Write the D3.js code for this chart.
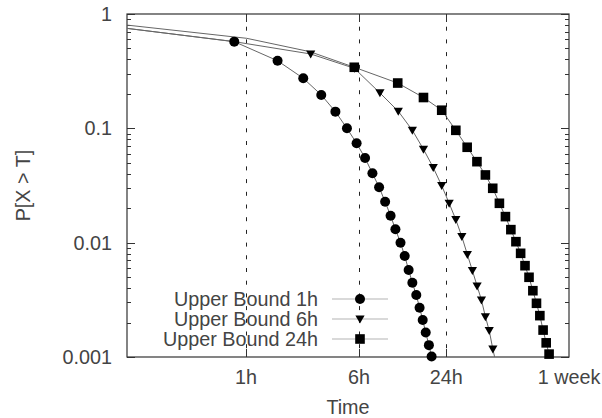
<!DOCTYPE html>
<html>
<head>
  <meta charset="utf-8">
  <title>Upper bound P[X > T]</title>
  <script src="https://cdnjs.cloudflare.com/ajax/libs/d3/7.8.5/d3.min.js"></script>
  <style>
    body { margin: 0; background: #fff; }
    text { font-family: "Liberation Sans", Arial, Helvetica, sans-serif; font-size: 19.8px; fill: #444; }
    .grid { stroke: #222; stroke-width: 1; stroke-dasharray: 4, 8.7; }
    .tick { stroke: #333; stroke-width: 1; }
    .frame { fill: none; stroke: #333; stroke-width: 1.2; }
    .curve { fill: none; stroke: #666; stroke-width: 1; }
    .legline { stroke: #ccc; stroke-width: 1.5; }
  </style>
</head>
<body>
  <svg id="chart"></svg>

  <script>
    // marker points, time in hours
    var hours1 = [0.83, 1.65, 2.48, 3.30, 4.13, 4.96, 5.78, 6.61, 7.43, 8.26, 9.09, 9.91, 10.7, 11.6, 12.4, 13.2, 14.0, 14.9, 15.7, 16.5, 17.3, 18.2, 19.0];
    var prob1 = [0.573, 0.390, 0.274, 0.196, 0.140, 0.100, 0.074, 0.055, 0.0404, 0.0305, 0.0228, 0.0172, 0.0131, 0.0100, 0.00764, 0.00577, 0.00446, 0.00348, 0.00270, 0.00211, 0.00164, 0.00127, 0.00101];

    var hours6 = [2.79, 5.58, 8.37, 11.2, 14.0, 16.7, 19.5, 22.3, 25.1, 27.9, 30.7, 33.5, 36.3, 39.1, 41.9, 44.6, 47.4, 50.2];
    var prob6 = [0.447, 0.335, 0.204, 0.141, 0.0961, 0.0656, 0.0454, 0.0315, 0.0221, 0.0159, 0.0113, 0.00788, 0.00569, 0.00418, 0.00315, 0.00225, 0.00170, 0.00117];

    var hours24 = [5.57, 11.1, 16.7, 22.3, 27.9, 33.4, 39.0, 44.6, 50.1, 55.7, 61.3, 66.8, 72.4, 78.0, 83.6, 89.1, 94.7, 100.3, 105.8, 111.4, 117.0, 122.5];
    var prob24 = [0.342, 0.249, 0.186, 0.144, 0.0961, 0.0683, 0.0511, 0.0391, 0.0299, 0.0221, 0.0169, 0.0130, 0.0102, 0.00807, 0.00629, 0.00498, 0.00380, 0.00295, 0.00230, 0.00172, 0.00133, 0.00106];

    // unmarked line points before the first / after the last marker
    var leadHours1 = [0.15], leadProb1 = [0.750];
    var leadHours6 = [0.15, 0.83], leadProb6 = [0.750, 0.573];
    var leadHours24 = [0.15, 1.01, 2.76], leadProb24 = [0.801, 0.613, 0.468];
    var tailHours6 = [52.2], tailProb6 = [0.00094];
    var tailHours24 = [126.6], tailProb24 = [0.00094];

    var seriesNames = ['Upper Bound 1h', 'Upper Bound 6h', 'Upper Bound 24h'];
    var seriesShapes = ['circle', 'triangle', 'square'];

    var xTickHours = [1, 6, 24, 168];
    var xTickLabels = ['1h', '6h', '24h', '1 week'];
    var yTickValues = [1, 0.1, 0.01, 0.001];
    var yTickLabels = ['1', '0.1', '0.01', '0.001'];

    var W = 602, H = 418;
    var pl = 127, pr = 569, pt = 14, pb = 357;

    var svg = d3.select('#chart')
      .attr('width', W)
      .attr('height', H);

    var x = d3.scaleLog().domain([0.1514, 168]).range([pl, pr]);
    var y = d3.scaleLog().domain([0.001, 1]).range([pb, pt]);

    function pairs(hs, ps) { return hs.map(function (h, i) { return [h, ps[i]]; }); }

    var series = [
      { pts: pairs(hours1, prob1), line: pairs(leadHours1, leadProb1).concat(pairs(hours1, prob1)) },
      { pts: pairs(hours6, prob6), line: pairs(leadHours6, leadProb6).concat(pairs(hours6, prob6), pairs(tailHours6, tailProb6)) },
      { pts: pairs(hours24, prob24), line: pairs(leadHours24, leadProb24).concat(pairs(hours24, prob24), pairs(tailHours24, tailProb24)) }
    ];

    svg.append('clipPath').attr('id', 'clip')
      .append('rect')
      .attr('x', pl).attr('y', pt)
      .attr('width', pr - pl).attr('height', pb - pt);

    // dashed verticals at 1h, 6h, 24h
    svg.selectAll('.grid')
      .data(xTickHours.slice(0, 3))
      .enter().append('line')
      .attr('class', 'grid')
      .attr('x1', d => Math.round(x(d)) + 0.5).attr('x2', d => Math.round(x(d)) + 0.5)
      .attr('y1', pt).attr('y2', pb);

    // y ticks, inward on both sides
    var yAll = y.ticks();
    var ticks = svg.append('g');
    yAll.forEach(function (v) {
      var major = yTickValues.indexOf(v) >= 0;
      var len = major ? 8 : 4;
      var yy = Math.round(y(v)) + 0.5;
      ticks.append('line').attr('class', 'tick')
        .attr('x1', pl).attr('x2', pl + len).attr('y1', yy).attr('y2', yy);
      ticks.append('line').attr('class', 'tick')
        .attr('x1', pr).attr('x2', pr - len).attr('y1', yy).attr('y2', yy);
    });

    // x ticks top and bottom
    xTickHours.slice(0, 3).forEach(function (h) {
      var xx = Math.round(x(h)) + 0.5;
      ticks.append('line').attr('class', 'tick')
        .attr('x1', xx).attr('x2', xx).attr('y1', pb).attr('y2', pb - 8);
      ticks.append('line').attr('class', 'tick')
        .attr('x1', xx).attr('x2', xx).attr('y1', pt).attr('y2', pt + 8);
    });

    svg.append('rect')
      .attr('class', 'frame')
      .attr('x', pl).attr('y', pt)
      .attr('width', pr - pl).attr('height', pb - pt);

    // tick labels
    svg.selectAll('.ylab')
      .data(yTickValues)
      .enter().append('text')
      .attr('class', 'ylab')
      .attr('x', 112)
      .attr('y', d => y(d))
      .attr('dy', '0.36em')
      .attr('text-anchor', 'end')
      .text((d, i) => yTickLabels[i]);

    svg.selectAll('.xlab')
      .data(xTickHours)
      .enter().append('text')
      .attr('class', 'xlab')
      .attr('x', d => x(d))
      .attr('y', 384)
      .attr('text-anchor', 'middle')
      .text((d, i) => xTickLabels[i]);

    svg.append('text')
      .attr('x', (pl + pr) / 2)
      .attr('y', 414)
      .attr('text-anchor', 'middle')
      .text('Time');

    svg.append('text')
      .attr('transform', 'translate(30,' + (pt + pb) / 2 + ') rotate(-90)')
      .attr('text-anchor', 'middle')
      .text('P[X > T]');

    // curves
    var line = d3.line().x(d => x(d[0])).y(d => y(d[1]));
    svg.append('g').attr('clip-path', 'url(#clip)')
      .selectAll('path')
      .data(series)
      .enter().append('path')
      .attr('class', 'curve')
      .attr('d', d => line(d.line));

    function marker(g, shape) {
      if (shape === 'circle') {
        g.append('circle').attr('r', 5).attr('fill', '#000');
      } else if (shape === 'triangle') {
        g.append('path').attr('d', 'M-4.6,-3.6L4.6,-3.6L0,4.4Z').attr('fill', '#000');
      } else {
        g.append('rect').attr('x', -4.8).attr('y', -4.8).attr('width', 9.6).attr('height', 9.6).attr('fill', '#000');
      }
    }

    series.forEach(function (s, i) {
      svg.append('g').selectAll('g')
        .data(s.pts)
        .enter().append('g')
        .attr('transform', d => 'translate(' + x(d[0]) + ',' + y(d[1]) + ')')
        .each(function () { marker(d3.select(this), seriesShapes[i]); });
    });

    // legend
    var legY = [299, 319, 339];
    seriesNames.forEach(function (name, i) {
      svg.append('text')
        .attr('x', 318).attr('y', legY[i]).attr('dy', '0.36em')
        .attr('text-anchor', 'end')
        .text(name);
      svg.append('line').attr('class', 'legline')
        .attr('x1', 332).attr('x2', 388).attr('y1', legY[i]).attr('y2', legY[i]);
      var g = svg.append('g').attr('transform', 'translate(360,' + legY[i] + ')');
      marker(g, seriesShapes[i]);
    });
  </script>
</body>
</html>
